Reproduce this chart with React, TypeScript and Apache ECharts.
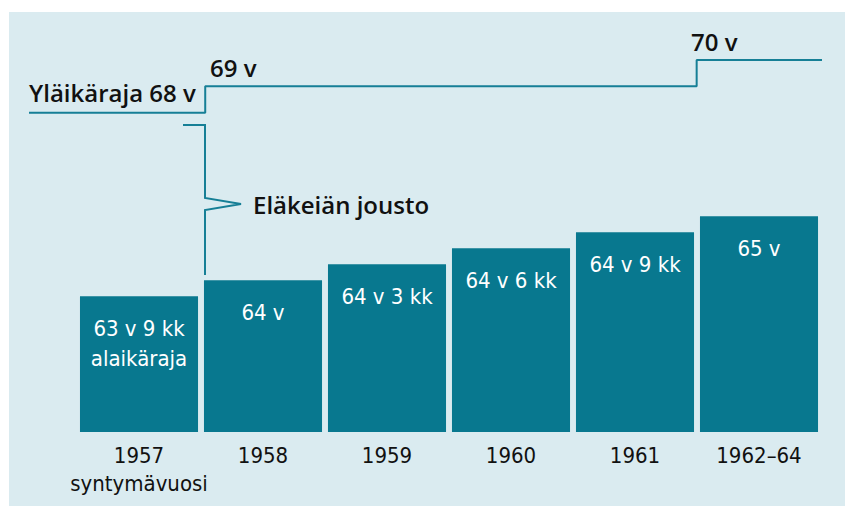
import React, { useEffect, useRef } from "react";
import * as echarts from "echarts";

const categories = ["1957\nsyntymävuosi", "1958", "1959", "1960", "1961", "1962–64"];
const lowerAge = [63.75, 64, 64.25, 64.5, 64.75, 65];
const barLabels = ["63 v 9 kk\nalaikäraja", "64 v", "64 v 3 kk", "64 v 6 kk", "64 v 9 kk", "65 v"];
// upper limit: [category position, age]
const upperLimit: [number, number][] = [
  [-0.39, 68], [1.03, 68], [1.03, 69], [4.99, 69], [4.99, 70], [6, 70],
];

const TEAL = "#08788f";
const LINE = "#167f96";
const BG = "#daebf0";
const NARROW = "'Liberation Sans Narrow', 'DejaVu Sans Condensed', sans-serif";
const BOLD = "'Open Sans', 'Noto Sans', sans-serif";

export default function App() {
  const ref = useRef<HTMLDivElement>(null);
  useEffect(() => {
    if (!ref.current) return;
    const chart = echarts.init(ref.current, undefined, { renderer: "svg" });
    chart.setOption({
      animation: false,
      backgroundColor: "#ffffff",
      grid: [
        { left: 77, width: 744, top: 112, height: 320 },
        { left: 29, right: 23, top: 60, height: 52.7 },
      ],
      xAxis: [
        {
          type: "category",
          gridIndex: 0,
          data: categories,
          axisLine: { show: false },
          axisTick: { show: false },
          axisLabel: {
            interval: 0,
            margin: 9,
            fontFamily: NARROW,
            fontSize: 22,
            lineHeight: 28,
            color: "#111",
          },
        },
        { type: "value", gridIndex: 1, min: -0.39, max: 6, show: false },
      ],
      yAxis: [
        { type: "value", gridIndex: 0, min: 61.63, max: 66.63, show: false },
        { type: "value", gridIndex: 1, min: 68, max: 70, show: false },
      ],
      graphic: [
        {
          type: "rect",
          z: -10,
          shape: { x: 9, y: 12, width: 836, height: 494 },
          style: { fill: BG },
          silent: true,
        },
        {
          type: "polyline",
          shape: {
            points: [
              [183, 125], [205, 125], [205, 198], [241, 204], [205, 210], [205, 275],
            ],
          },
          style: { stroke: LINE, lineWidth: 2, fill: null },
        },
        {
          type: "text",
          x: 253, y: 204,
          style: { text: "Eläkeiän jousto", font: `600 24px ${BOLD}`, fill: "#111", textVerticalAlign: "middle" },
        },
        {
          type: "text",
          x: 29, y: 92,
          style: { text: "Yläikäraja 68 v", font: `600 24px ${BOLD}`, fill: "#111", textVerticalAlign: "middle" },
        },
        {
          type: "text",
          x: 210, y: 67,
          style: { text: "69 v", font: `600 24px ${BOLD}`, fill: "#111", textVerticalAlign: "middle" },
        },
        {
          type: "text",
          x: 691, y: 41,
          style: { text: "70 v", font: `600 24px ${BOLD}`, fill: "#111", textVerticalAlign: "middle" },
        },
      ],
      series: [
        {
          type: "bar",
          xAxisIndex: 0,
          yAxisIndex: 0,
          data: lowerAge,
          barCategoryGap: "4.8%",
          itemStyle: { color: TEAL },
          label: {
            show: true,
            position: "insideTop",
            distance: 17,
            formatter: (p: any) => barLabels[p.dataIndex],
            fontFamily: NARROW,
            fontSize: 22,
            lineHeight: 30,
            color: "#ffffff",
          },
        },
        {
          type: "line",
          xAxisIndex: 1,
          yAxisIndex: 1,
          data: upperLimit,
          clip: false,
          symbol: "none",
          lineStyle: { color: LINE, width: 2 },
        },
      ],
    });
    return () => chart.dispose();
  }, []);
  return (
    <div
      ref={ref}
      style={{ position: "fixed", left: 0, top: 0, width: 845, height: 508 }}
    />
  );
}
